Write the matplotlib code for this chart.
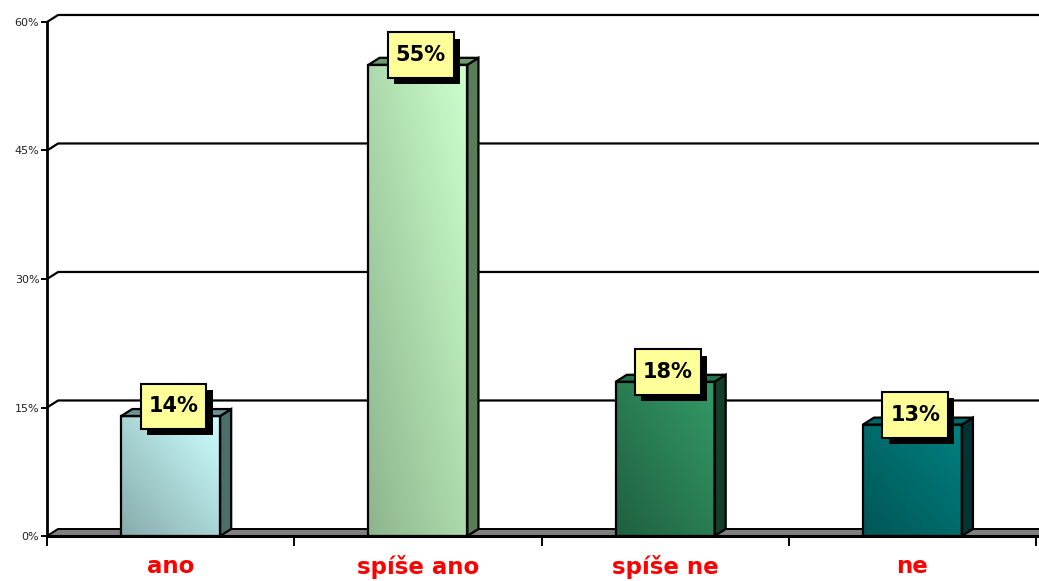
import matplotlib
matplotlib.use("Agg")
import matplotlib.pyplot as plt
import matplotlib.patheffects as pe
import numpy as np
from matplotlib.patches import Polygon, Rectangle
from matplotlib.ticker import PercentFormatter, FixedLocator

categories = ["ano", "spíše ano", "spíše ne", "ne"]
values = [0.14, 0.55, 0.18, 0.13]
labels = ["14%", "55%", "18%", "13%"]
y_ticks = [0, 0.15, 0.30, 0.45, 0.60]

dark_colors = ["#87abab", "#8db58d", "#1f6040", "#005656"]
light_colors = ["#ccffff", "#ccffcc", "#349a66", "#008080"]
top_colors = ["#6b9393", "#6f9a6f", "#23704a", "#006666"]
side_colors = ["#4a6e6e", "#587d58", "#163f2a", "#003333"]

# depth of the fake 3d effect, in data units
DX = 0.045
DY = 0.0082
bar_width = 0.4

fig = plt.figure(figsize=(10.39, 5.81), dpi=100)
ax = fig.add_axes([47 / 1039, 45 / 581, 989 / 1039, 514 / 581])
ax.set_xlim(0, len(categories))
ax.set_ylim(0, 0.6)

# back grid lines with the little diagonal at the left wall
for v in y_ticks[1:]:
    ax.plot([0, DX, len(categories) + 0.2], [v, v + DY, v + DY], color="black", lw=1.6,
            zorder=1, clip_on=False, solid_capstyle="butt")

# floor
floor = Polygon([(0, 0), (len(categories) + 0.2, 0), (len(categories) + 0.2, DY), (DX, DY)],
                closed=True, fc="#808080", ec="black", lw=1.4, zorder=2, clip_on=False)
ax.add_patch(floor)

for i, v in enumerate(values):
    x0 = i + 0.5 - bar_width / 2
    x1 = i + 0.5 + bar_width / 2
    # gradient for front face
    n = 100
    u = np.linspace(0, 1, n)
    uu, vv = np.meshgrid(u, u)
    t = (uu + vv) / 2
    c0 = np.array(matplotlib.colors.to_rgb(dark_colors[i]))
    c1 = np.array(matplotlib.colors.to_rgb(light_colors[i]))
    img = c0 + t[..., None] * (c1 - c0)
    rect = Rectangle((x0, 0), bar_width, v, fc="none", ec="black", lw=1.6, zorder=5)
    ax.add_patch(rect)
    im = ax.imshow(img, extent=(x0, x1, 0, v), origin="lower", aspect="auto", zorder=4)
    im.set_clip_path(rect)
    side = Polygon([(x1, 0), (x1 + DX, DY), (x1 + DX, v + DY), (x1, v)], closed=True,
                   fc=side_colors[i], ec="black", lw=1.6, zorder=4)
    top = Polygon([(x0, v), (x0 + DX, v + DY), (x1 + DX, v + DY), (x1, v)], closed=True,
                  fc=top_colors[i], ec="black", lw=1.6, zorder=4)
    ax.add_patch(side)
    ax.add_patch(top)

    # value label in a yellow box with a black drop shadow
    txt = ax.annotate(labels[i], (i + 0.5, v), xytext=(2, 7), textcoords="offset points",
                      ha="center", va="center", fontsize=15, fontweight="bold", color="black",
                      bbox=dict(boxstyle="square,pad=0.38", fc="#ffff99", ec="black", lw=1.5,
                                mutation_aspect=1.6),
                      zorder=7)
    txt.get_bbox_patch().set_path_effects([
        pe.SimplePatchShadow(offset=(4.5, -4.5), shadow_rgbFace="black", alpha=1),
        pe.Normal()])

ax.set_yticks(y_ticks)
ax.yaxis.set_major_formatter(PercentFormatter(1, decimals=0))
ax.tick_params(axis="y", direction="out", length=4.5, width=1.4, labelsize=8, pad=1,
               labelcolor="#222222")

ax.xaxis.set_major_locator(FixedLocator(range(len(categories) + 1)))
ax.xaxis.set_minor_locator(FixedLocator([i + 0.5 for i in range(len(categories))]))
ax.set_xticklabels([], minor=False)
ax.set_xticklabels(categories, minor=True)
ax.tick_params(axis="x", which="major", direction="out", length=7.5, width=1.4)
ax.tick_params(axis="x", which="minor", length=0, pad=13.5, labelsize=16.5,
               labelcolor="#ff0000")
for lab in ax.get_xticklabels(minor=True):
    lab.set_fontweight("bold")

for s in ["top", "right"]:
    ax.spines[s].set_visible(False)
ax.spines["left"].set_linewidth(2)
ax.spines["left"].set_zorder(8)
ax.spines["bottom"].set_linewidth(2.2)
ax.spines["bottom"].set_zorder(8)
ax.spines["bottom"].set_bounds(0, len(categories) + 0.2)
ax.patch.set_visible(False)

fig.savefig("out.png", dpi=100)
